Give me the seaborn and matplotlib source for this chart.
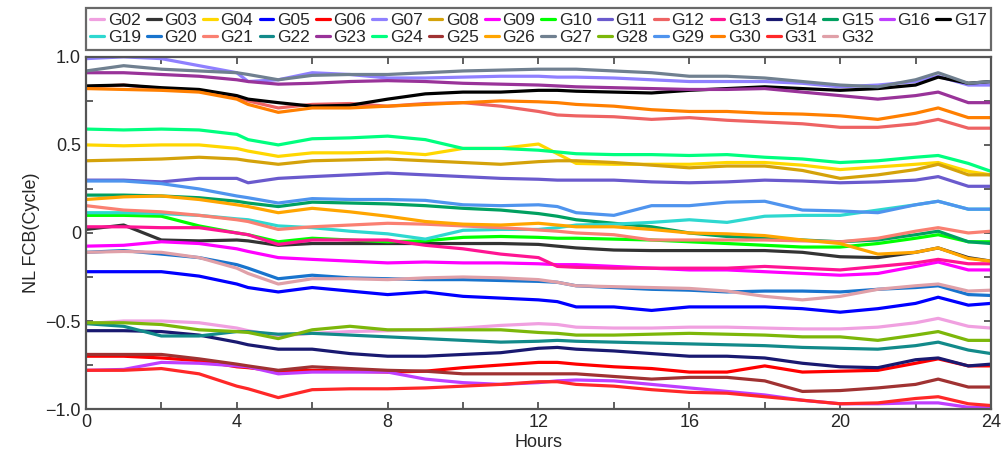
import numpy as np
import pandas as pd
import seaborn as sns
import matplotlib.pyplot as plt
from matplotlib.lines import Line2D
from matplotlib.ticker import MultipleLocator, FuncFormatter

# hour knots shared by every satellite
hours = [0, 1, 2, 3, 4, 4.3, 5.1, 6, 7, 8, 9, 10, 11, 12, 12.5, 13,
         14, 15, 16, 17, 18, 19, 20, 21, 22, 22.6, 23.4, 24]

# NL FCB values (cycle)
G02 = [-0.515, -0.50, -0.50, -0.51, -0.54, -0.555, -0.585, -0.57, -0.56, -0.555, -0.55, -0.54, -0.525, -0.515,
       -0.52, -0.535, -0.54, -0.54, -0.535, -0.535, -0.54, -0.545, -0.545, -0.535, -0.51, -0.485, -0.53, -0.54]
G03 = [0.02, 0.045, -0.04, -0.045, -0.04, -0.045, -0.07, -0.06, -0.06, -0.06, -0.06, -0.06, -0.06, -0.065,
       -0.075, -0.085, -0.097, -0.10, -0.10, -0.10, -0.10, -0.11, -0.135, -0.14, -0.11, -0.085, -0.14, -0.16]
G04 = [0.50, 0.495, 0.50, 0.50, 0.48, 0.465, 0.435, 0.455, 0.455, 0.46, 0.445, 0.48, 0.48, 0.505,
       0.45, 0.395, 0.39, 0.39, 0.39, 0.40, 0.40, 0.385, 0.36, 0.375, 0.39, 0.40, 0.35, 0.33]
G05 = [-0.22, -0.22, -0.22, -0.245, -0.29, -0.31, -0.335, -0.31, -0.33, -0.35, -0.335, -0.36, -0.37, -0.38,
       -0.39, -0.42, -0.42, -0.44, -0.42, -0.42, -0.42, -0.43, -0.45, -0.43, -0.40, -0.365, -0.41, -0.40]
G06 = [-0.70, -0.70, -0.71, -0.725, -0.76, -0.765, -0.785, -0.78, -0.785, -0.79, -0.785, -0.765, -0.75, -0.735,
       -0.735, -0.745, -0.76, -0.77, -0.79, -0.79, -0.755, -0.79, -0.785, -0.78, -0.74, -0.715, -0.755, -0.755]
G07 = [0.99, 1.00, 0.99, 0.95, 0.91, 0.86, 0.87, 0.91, 0.90, 0.88, 0.88, 0.885, 0.89, 0.89,
       0.885, 0.885, 0.88, 0.87, 0.86, 0.86, 0.86, 0.85, 0.83, 0.84, 0.86, 0.89, 0.84, 0.84]
G08 = [0.41, 0.415, 0.42, 0.43, 0.42, 0.41, 0.39, 0.41, 0.415, 0.42, 0.41, 0.40, 0.39, 0.405,
       0.41, 0.41, 0.40, 0.385, 0.37, 0.38, 0.38, 0.355, 0.31, 0.33, 0.36, 0.39, 0.33, 0.33]
G09 = [-0.075, -0.07, -0.05, -0.06, -0.09, -0.105, -0.14, -0.15, -0.16, -0.17, -0.165, -0.17, -0.17, -0.175,
       -0.18, -0.18, -0.19, -0.20, -0.21, -0.21, -0.22, -0.23, -0.24, -0.23, -0.19, -0.165, -0.21, -0.21]
G10 = [0.10, 0.10, 0.095, 0.04, 0.0, -0.01, -0.05, -0.03, -0.04, -0.05, -0.045, -0.025, -0.02, -0.025,
       -0.03, -0.03, -0.035, -0.04, -0.05, -0.06, -0.07, -0.08, -0.08, -0.06, -0.03, -0.01, -0.05, -0.05]
G11 = [0.30, 0.30, 0.29, 0.31, 0.31, 0.285, 0.31, 0.32, 0.33, 0.34, 0.33, 0.32, 0.31, 0.305,
       0.30, 0.30, 0.30, 0.29, 0.285, 0.29, 0.30, 0.295, 0.285, 0.29, 0.30, 0.32, 0.265, 0.265]
G12 = [0.83, 0.84, 0.82, 0.81, 0.77, 0.75, 0.71, 0.73, 0.735, 0.72, 0.735, 0.74, 0.72, 0.69,
       0.67, 0.665, 0.66, 0.645, 0.655, 0.64, 0.63, 0.62, 0.60, 0.60, 0.62, 0.645, 0.595, 0.595]
G13 = [0.035, 0.035, 0.03, 0.03, 0.0, -0.01, -0.065, -0.04, -0.04, -0.04, -0.07, -0.09, -0.12, -0.14,
       -0.19, -0.195, -0.20, -0.20, -0.20, -0.20, -0.19, -0.20, -0.21, -0.19, -0.17, -0.15, -0.175, -0.175]
G14 = [-0.555, -0.555, -0.56, -0.58, -0.62, -0.635, -0.66, -0.66, -0.685, -0.70, -0.70, -0.69, -0.68, -0.655,
       -0.65, -0.66, -0.67, -0.685, -0.70, -0.70, -0.71, -0.74, -0.76, -0.765, -0.72, -0.71, -0.755, -0.745]
G15 = [0.215, 0.215, 0.21, 0.20, 0.18, 0.17, 0.15, 0.175, 0.17, 0.165, 0.155, 0.14, 0.13, 0.11,
       0.095, 0.075, 0.055, 0.035, 0.0, -0.02, -0.03, -0.04, -0.05, -0.04, -0.01, 0.01, -0.05, -0.06]
G16 = [-0.78, -0.775, -0.735, -0.74, -0.755, -0.76, -0.80, -0.79, -0.79, -0.79, -0.83, -0.85, -0.86, -0.85,
       -0.84, -0.835, -0.84, -0.86, -0.88, -0.90, -0.92, -0.95, -0.97, -0.97, -0.965, -0.965, -0.99, -0.99]
G17 = [0.835, 0.84, 0.825, 0.815, 0.78, 0.76, 0.74, 0.72, 0.725, 0.76, 0.79, 0.80, 0.80, 0.81,
       0.81, 0.805, 0.80, 0.795, 0.81, 0.82, 0.83, 0.82, 0.81, 0.82, 0.84, 0.885, 0.85, 0.86]
G19 = [0.115, 0.115, 0.11, 0.10, 0.08, 0.075, 0.04, 0.03, 0.01, -0.005, -0.035, 0.015, 0.02, 0.02,
       0.03, 0.045, 0.05, 0.06, 0.075, 0.06, 0.095, 0.10, 0.10, 0.13, 0.16, 0.18, 0.135, 0.135]
G20 = [-0.11, -0.10, -0.12, -0.14, -0.18, -0.20, -0.26, -0.24, -0.255, -0.26, -0.265, -0.265, -0.27, -0.275,
       -0.28, -0.30, -0.31, -0.32, -0.325, -0.335, -0.33, -0.33, -0.335, -0.32, -0.31, -0.30, -0.35, -0.355]
G21 = [0.155, 0.13, 0.12, 0.10, 0.075, 0.065, 0.02, 0.035, 0.045, 0.055, 0.05, 0.04, 0.03, 0.017,
       0.01, 0.0, -0.01, -0.04, -0.04, -0.04, -0.04, -0.045, -0.05, -0.03, 0.01, 0.03, 0.0, 0.01]
G22 = [-0.515, -0.53, -0.585, -0.585, -0.56, -0.56, -0.575, -0.57, -0.58, -0.59, -0.60, -0.61, -0.62, -0.615,
       -0.61, -0.615, -0.62, -0.625, -0.63, -0.635, -0.64, -0.65, -0.655, -0.66, -0.64, -0.62, -0.665, -0.685]
G23 = [0.91, 0.91, 0.90, 0.89, 0.87, 0.86, 0.845, 0.85, 0.86, 0.865, 0.86, 0.85, 0.845, 0.84,
       0.835, 0.83, 0.825, 0.82, 0.815, 0.815, 0.82, 0.80, 0.78, 0.76, 0.78, 0.80, 0.74, 0.74]
G24 = [0.59, 0.585, 0.59, 0.585, 0.56, 0.53, 0.50, 0.535, 0.54, 0.55, 0.53, 0.48, 0.48, 0.47,
       0.46, 0.45, 0.445, 0.445, 0.44, 0.445, 0.43, 0.42, 0.40, 0.41, 0.43, 0.44, 0.395, 0.35]
G25 = [-0.69, -0.69, -0.69, -0.715, -0.745, -0.755, -0.78, -0.76, -0.77, -0.78, -0.785, -0.80, -0.80, -0.80,
       -0.80, -0.80, -0.815, -0.83, -0.82, -0.82, -0.84, -0.90, -0.895, -0.88, -0.86, -0.83, -0.875, -0.875]
G26 = [0.19, 0.205, 0.21, 0.19, 0.16, 0.15, 0.115, 0.14, 0.12, 0.095, 0.065, 0.05, 0.045, 0.055,
       0.045, 0.035, 0.035, 0.02, 0.0, -0.005, -0.015, -0.04, -0.06, -0.12, -0.11, -0.085, -0.145, -0.16]
G27 = [0.92, 0.95, 0.93, 0.92, 0.91, 0.90, 0.87, 0.895, 0.90, 0.90, 0.91, 0.92, 0.925, 0.93,
       0.93, 0.93, 0.92, 0.91, 0.89, 0.89, 0.88, 0.86, 0.84, 0.83, 0.87, 0.91, 0.85, 0.86]
G28 = [-0.51, -0.51, -0.52, -0.55, -0.56, -0.565, -0.60, -0.55, -0.53, -0.55, -0.55, -0.55, -0.55, -0.565,
       -0.57, -0.58, -0.58, -0.575, -0.57, -0.575, -0.58, -0.59, -0.59, -0.61, -0.58, -0.56, -0.61, -0.61]
G29 = [0.295, 0.295, 0.28, 0.25, 0.21, 0.20, 0.17, 0.195, 0.19, 0.19, 0.185, 0.16, 0.155, 0.16,
       0.15, 0.115, 0.10, 0.155, 0.155, 0.175, 0.18, 0.13, 0.125, 0.115, 0.16, 0.18, 0.135, 0.135]
G30 = [0.82, 0.815, 0.81, 0.80, 0.76, 0.73, 0.685, 0.71, 0.71, 0.72, 0.73, 0.74, 0.75, 0.745,
       0.74, 0.73, 0.72, 0.70, 0.69, 0.69, 0.68, 0.675, 0.665, 0.645, 0.68, 0.71, 0.655, 0.655]
G31 = [-0.78, -0.78, -0.77, -0.80, -0.87, -0.885, -0.935, -0.89, -0.885, -0.885, -0.88, -0.87, -0.86, -0.845,
       -0.845, -0.86, -0.87, -0.89, -0.905, -0.91, -0.93, -0.95, -0.97, -0.965, -0.94, -0.93, -0.97, -0.98]
G32 = [-0.11, -0.105, -0.11, -0.14, -0.20, -0.23, -0.29, -0.26, -0.26, -0.265, -0.255, -0.25, -0.255, -0.265,
       -0.28, -0.30, -0.305, -0.31, -0.315, -0.33, -0.36, -0.38, -0.36, -0.32, -0.30, -0.29, -0.33, -0.325]

sats = ["G02", "G03", "G04", "G05", "G06", "G07", "G08", "G09", "G10", "G11", "G12",
        "G13", "G14", "G15", "G16", "G17", "G19", "G20", "G21", "G22", "G23", "G24",
        "G25", "G26", "G27", "G28", "G29", "G30", "G31", "G32"]
values = [G02, G03, G04, G05, G06, G07, G08, G09, G10, G11, G12, G13, G14, G15, G16,
          G17, G19, G20, G21, G22, G23, G24, G25, G26, G27, G28, G29, G30, G31, G32]
colors = ["#F0A0E0", "#333333", "#FFD700", "#0000FF", "#FF0000", "#8F80FF", "#D4A20A",
          "#FF00FF", "#00FF00", "#6A5ACD", "#EE6363", "#FF1493", "#191970", "#00A060",
          "#BF3EFF", "#000000", "#2ED8D0", "#1874CD", "#FA8072", "#128A8A", "#993399",
          "#00FF7F", "#A03232", "#FFA500", "#708090", "#7CB70A", "#4F94EE", "#FF7F00",
          "#FF2828", "#E0A0A8"]

df = pd.DataFrame({
    "Hours": np.tile(hours, len(sats)),
    "FCB": np.concatenate(values),
    "sat": np.repeat(sats, len(hours)),
})
palette = dict(zip(sats, colors))

sns.set_theme(style="ticks")
plt.rcParams["font.family"] = ["Liberation Sans", "DejaVu Sans"]

fig = plt.figure(figsize=(10.03, 4.55), dpi=100)
ax = fig.add_axes([0.0857, 0.101, 0.9023, 0.774])
sns.lineplot(data=df, x="Hours", y="FCB", hue="sat", palette=palette,
             estimator=None, lw=2.3, legend=False, ax=ax)

ax.set_xlim(0, 24)
ax.set_ylim(-1.0, 1.0)
ax.xaxis.set_major_locator(MultipleLocator(4))
ax.xaxis.set_minor_locator(MultipleLocator(2))
ax.yaxis.set_major_locator(MultipleLocator(0.5))
ax.yaxis.set_minor_locator(MultipleLocator(0.25))
ax.yaxis.set_major_formatter(FuncFormatter(
    lambda v, p: "0" if abs(v) < 1e-9 else f"{v:.1f}".replace("-", "\u2212")))
ax.tick_params(which="both", direction="in", top=True, right=True,
               length=5, width=1.2, color="#444444", labelsize=13)
for s in ax.spines.values():
    s.set_color("#555555")
    s.set_linewidth(1.6)
ax.set_xlabel("Hours", fontsize=13, labelpad=2)
ax.set_ylabel("NL FCB(Cycle)", fontsize=13, labelpad=4)

# legend filled row by row: 16 in the first row, 14 in the second
row1, row2 = sats[:16], sats[16:]
order = []
for i in range(16):
    order.append(row1[i])
    if i < len(row2):
        order.append(row2[i])
handles = [Line2D([], [], color=palette[s], lw=2.3) for s in order]
leg = ax.legend(handles, order, ncol=16, loc="lower left", mode="expand",
                bbox_to_anchor=(0, 1.02, 1, 0.128), fontsize=12.5,
                handlelength=0.8, handletextpad=0.2, columnspacing=0.4,
                borderaxespad=0, borderpad=0.25, labelspacing=0.15,
                frameon=True, fancybox=False, edgecolor="#444444")
leg.get_frame().set_linewidth(1.6)

fig.savefig("out.png", dpi=100)
